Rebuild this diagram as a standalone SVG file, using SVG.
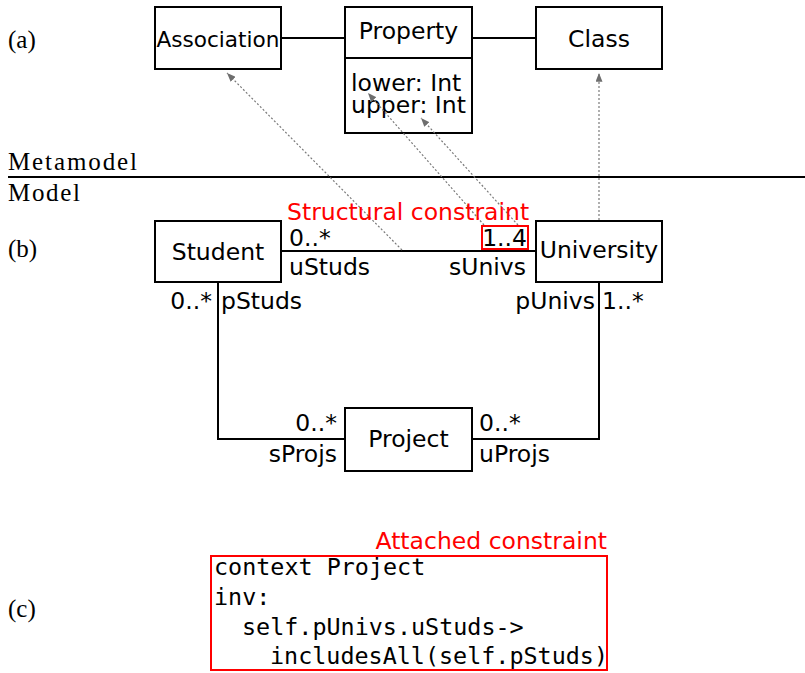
<svg xmlns="http://www.w3.org/2000/svg" width="805" height="673" viewBox="0 0 805 673">
  <defs>
    <marker id="tri" viewBox="0 0 10 8" refX="10" refY="4" markerWidth="9" markerHeight="7" markerUnits="userSpaceOnUse" orient="auto">
      <path d="M0,0 L10,4 L0,8 Z" fill="#6e6e6e"/>
    </marker>
    <style>
      .box { fill: #fff; stroke: #000; stroke-width: 2; }
      .edge { fill: none; stroke: #000; stroke-width: 2; }
      .dep { fill: none; stroke: #7a7a7a; stroke-width: 1.2; stroke-dasharray: 2 2; marker-end: url(#tri); }
      .t { font-family: "DejaVu Sans", "Noto Sans", sans-serif; font-size: 23.5px; fill: #000; }
      .mid { text-anchor: middle; }
      .end { text-anchor: end; }
      .red { fill: #ff0000; }
      .serif { font-family: "Liberation Serif", "DejaVu Serif", serif; font-size: 25px; fill: #000; }
      .code { font-family: "DejaVu Sans Mono", "Liberation Mono", monospace; font-size: 23.4px; fill: #000; }
      .redbox { fill: none; stroke: #ff0000; stroke-width: 2; }
    </style>
  </defs>

  <rect width="805" height="673" fill="#fff"/>

  <!-- section labels -->
  <text class="serif" x="8" y="48">(a)</text>
  <text class="serif" x="8" y="170" textLength="129" lengthAdjust="spacing">Metamodel</text>
  <line x1="8" y1="177" x2="805" y2="177" stroke="#000" stroke-width="2"/>
  <text class="serif" x="8" y="201" textLength="72" lengthAdjust="spacing">Model</text>
  <text class="serif" x="8" y="257">(b)</text>
  <text class="serif" x="8" y="617">(c)</text>

  <!-- metamodel -->
  <g id="association">
    <rect class="box" x="155" y="7" width="126" height="62"/>
    <text class="t mid" x="218" y="47" style="font-size:21.6px">Association</text>
  </g>
  <g id="property">
    <rect class="box" x="345" y="7" width="127" height="126"/>
    <line class="edge" x1="345" y1="58" x2="472" y2="58"/>
    <text class="t mid" x="408.5" y="39">Property</text>
    <text class="t" x="351" y="91">lower: Int</text>
    <text class="t" x="351" y="113">upper: Int</text>
  </g>
  <g id="class">
    <rect class="box" x="536" y="7" width="126" height="62"/>
    <text class="t mid" x="599" y="47">Class</text>
  </g>

  <!-- model -->
  <g id="student">
    <rect class="box" x="155" y="221" width="126" height="61"/>
    <text class="t mid" x="218" y="260">Student</text>
  </g>
  <g id="university">
    <rect class="box" x="536" y="221" width="126" height="61"/>
    <text class="t mid" x="599" y="258">University</text>
  </g>
  <g id="project">
    <rect class="box" x="345" y="408" width="127" height="63"/>
    <text class="t mid" x="408.5" y="447">Project</text>
  </g>

  <!-- connectors: associations (solid) and instance-of links (dotted) -->
  <g id="connectors">
    <line class="edge" x1="281" y1="38" x2="345" y2="38"/>
    <line class="edge" x1="472" y1="38" x2="536" y2="38"/>
    <line class="edge" x1="281" y1="251" x2="536" y2="251"/>
    <polyline class="edge" points="218,282 218,439 345,439"/>
    <polyline class="edge" points="599,282 599,439 472,439"/>
    <line class="dep" x1="402" y1="250" x2="227" y2="73"/>
    <line class="dep" x1="484" y1="225" x2="368" y2="93"/>
    <line class="dep" x1="518" y1="225" x2="421" y2="118"/>
    <line class="dep" x1="599" y1="220" x2="599" y2="73"/>
  </g>

  <!-- association end labels -->
  <g id="end-labels">
    <text class="t" x="289" y="246">0..*</text>
    <text class="t" x="289" y="275">uStuds</text>
    <text class="t end" x="527" y="246">1..4</text>
    <text class="t end" x="526" y="275">sUnivs</text>
    <text class="t end" x="212" y="309">0..*</text>
    <text class="t" x="221" y="309">pStuds</text>
    <text class="t end" x="595" y="309">pUnivs</text>
    <text class="t" x="602" y="309">1..*</text>
    <text class="t end" x="337" y="431">0..*</text>
    <text class="t end" x="337" y="462">sProjs</text>
    <text class="t" x="479" y="431">0..*</text>
    <text class="t" x="479" y="462">uProjs</text>
  </g>

  <!-- structural constraint -->
  <g id="structural-constraint">
    <text class="t red" x="287" y="220">Structural constraint</text>
    <rect class="redbox" x="482" y="226" width="46" height="23"/>
  </g>

  <!-- attached OCL constraint -->
  <g id="attached-constraint">
    <text class="t red end" x="607" y="549">Attached constraint</text>
    <rect class="redbox" x="211" y="556" width="396" height="114"/>
    <text class="code" x="214" y="575">context Project</text>
    <text class="code" x="214" y="605">inv:</text>
    <text class="code" x="242" y="635">self.pUnivs.uStuds-&gt;</text>
    <text class="code" x="270" y="664">includesAll(self.pStuds)</text>
  </g>
</svg>
